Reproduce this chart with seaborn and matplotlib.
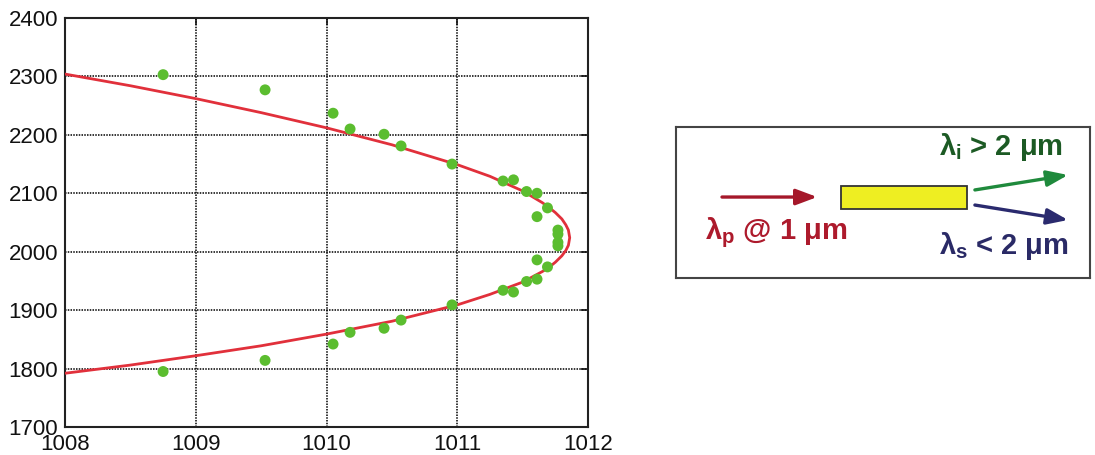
import numpy as np
import pandas as pd
import matplotlib
matplotlib.use("Agg")
import matplotlib.pyplot as plt
from matplotlib.patches import Rectangle, FancyArrowPatch
import seaborn as sns

# Measured signal/idler wavelengths (nm) against pump wavelength (nm)
pump_meas = [1008.75, 1009.53, 1010.05, 1010.18, 1010.44, 1010.57, 1010.96,
             1011.35, 1011.43, 1011.53, 1011.61, 1011.69, 1011.61,
             1011.77, 1011.77, 1011.77, 1011.77,
             1011.61, 1011.69, 1011.53, 1011.61, 1011.35, 1011.43,
             1010.96, 1010.57, 1010.44, 1010.18, 1010.05, 1009.53, 1008.75]
wl_meas = [2303, 2277, 2237, 2210, 2201, 2181, 2150,
           2121, 2123, 2103, 2100, 2075, 2060,
           2037, 2030, 2016, 2010,
           1986, 1974, 1949, 1953, 1934, 1931,
           1909, 1883, 1869, 1862, 1842, 1814, 1795]

# Phase-matching curve (pump wavelength, generated wavelength)
pump_curve = [1007.9, 1008.0, 1008.5, 1009.0, 1009.5, 1010.0, 1010.5, 1011.0,
              1011.25, 1011.5, 1011.65, 1011.7, 1011.75, 1011.8, 1011.83,
              1011.85, 1011.86, 1011.85, 1011.83, 1011.8, 1011.75, 1011.7,
              1011.65, 1011.5, 1011.25, 1011.0, 1010.5, 1010.0, 1009.5,
              1009.0, 1008.5, 1008.0, 1007.9]
wl_curve = [2309, 2304, 2284, 2262, 2238, 2212, 2183, 2149,
            2129, 2104, 2084, 2076, 2067, 2056, 2046,
            2037, 2024, 2011, 2002, 1993, 1982, 1973,
            1966, 1948, 1927, 1909, 1881, 1859, 1839,
            1822, 1806, 1792, 1788]

x_ticks = [1008, 1009, 1010, 1011, 1012]
y_ticks = [1700, 1800, 1900, 2000, 2100, 2200, 2300, 2400]

sns.set_style("white")
plt.rcParams["font.family"] = ["Liberation Sans", "DejaVu Sans"]
plt.rcParams["mathtext.fontset"] = "custom"
plt.rcParams["mathtext.rm"] = "Liberation Sans:bold"
plt.rcParams["mathtext.it"] = "Liberation Sans:bold"
plt.rcParams["mathtext.bf"] = "Liberation Sans:bold"

fig = plt.figure(figsize=(10.95, 4.55), dpi=100)
ax = fig.add_axes([0.0594, 0.0615, 0.4776, 0.899])

meas = pd.DataFrame({"pump": pump_meas, "wl": wl_meas})
curve = pd.DataFrame({"pump": pump_curve, "wl": wl_curve})

sns.lineplot(data=curve, x="pump", y="wl", sort=False, estimator=None,
             color="#e1303b", linewidth=2.0, ax=ax, zorder=3)
sns.scatterplot(data=meas, x="pump", y="wl", color="#5bbd2f", s=62,
                edgecolor="none", ax=ax, zorder=4)

ax.set_xlim(1008, 1012)
ax.set_ylim(1700, 2400)
ax.set_xticks(x_ticks)
ax.set_yticks(y_ticks)
ax.set_xlabel("")
ax.set_ylabel("")
ax.grid(True, linestyle=(0, (1, 0.8)), color="black", linewidth=1.1)
for s in ax.spines.values():
    s.set_color("#222222")
    s.set_linewidth(1.5)
ax.tick_params(direction="in", length=5, width=1.2, top=True, right=True,
               labelsize=16, pad=5, colors="#111111")

# Schematic of the parametric process
ad = fig.add_axes([0.6174, 0.389, 0.378, 0.332])
ad.set_xlim(0, 1)
ad.set_ylim(0, 1)
ad.set_xticks([])
ad.set_yticks([])
for s in ad.spines.values():
    s.set_color("#444444")
    s.set_linewidth(1.5)

ad.add_patch(Rectangle((0.399, 0.457), 0.304, 0.152, facecolor="#eeee22",
                       edgecolor="#333333", linewidth=1.3, zorder=2))

def arrow(p0, p1, color):
    ad.add_patch(FancyArrowPatch(p0, p1, arrowstyle="-|>,head_length=8,head_width=3",
                                 color=color, linewidth=2.4, shrinkA=0, shrinkB=0,
                                 mutation_scale=1.6))

arrow((0.111, 0.536), (0.341, 0.536), "#a5182a")
arrow((0.722, 0.583), (0.947, 0.682), "#1f8a3c")
arrow((0.722, 0.483), (0.947, 0.384), "#2a2a6e")

ad.text(0.242, 0.300, r"$\lambda_p$ @ 1 μm", color="#ad1a2c", fontsize=21,
        fontweight="bold", ha="center", va="center")
ad.text(0.785, 0.868, r"$\lambda_i$ > 2 μm", color="#1c5a24", fontsize=21,
        fontweight="bold", ha="center", va="center")
ad.text(0.792, 0.215, r"$\lambda_s$ < 2 μm", color="#2a2a66", fontsize=21,
        fontweight="bold", ha="center", va="center")

fig.savefig("out.png", dpi=100)
